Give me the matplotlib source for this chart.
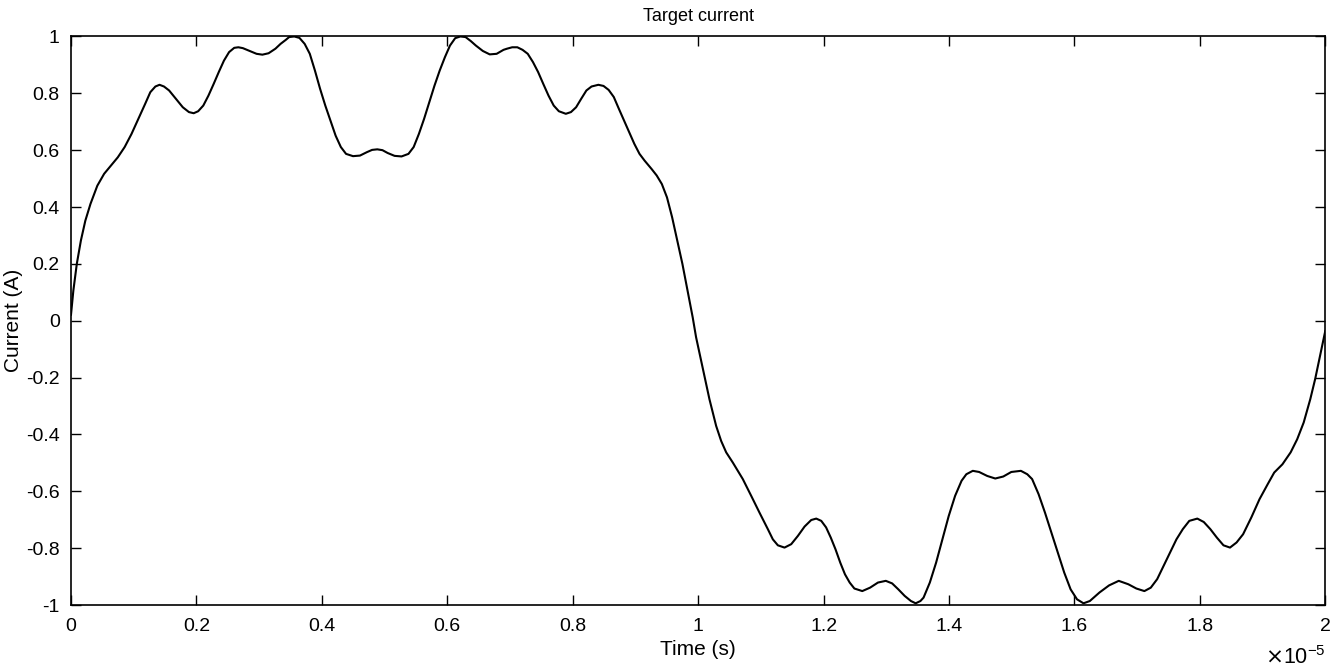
import numpy as np
import matplotlib
matplotlib.use("Agg")
import matplotlib.pyplot as plt

# Time in units of 1e-5 s and current in A
time_x1e5 = [
    0.0, 0.0038, 0.0093, 0.0158, 0.0229, 0.0311, 0.042, 0.0529, 0.0638, 0.0747,
    0.0856, 0.0965, 0.1074, 0.1183, 0.1265, 0.1346, 0.1412, 0.1483, 0.1565, 0.1673,
    0.1783, 0.1881, 0.1957, 0.2028, 0.211, 0.2192, 0.2275, 0.2357, 0.2439, 0.2521,
    0.2603, 0.2669, 0.274, 0.285, 0.2959, 0.3052, 0.3151, 0.326, 0.3342, 0.3425,
    0.3479, 0.3561, 0.3643, 0.3726, 0.3808, 0.389, 0.3972, 0.4055, 0.4138, 0.422,
    0.4303, 0.4386, 0.4497, 0.4608, 0.4718, 0.4801, 0.4884, 0.4967, 0.505, 0.516,
    0.5271, 0.5381, 0.5464, 0.5547, 0.563, 0.5713, 0.5796, 0.5879, 0.5962, 0.6043,
    0.6126, 0.6208, 0.6291, 0.6374, 0.6456, 0.6567, 0.6677, 0.6787, 0.6897, 0.6952,
    0.7035, 0.7117, 0.72, 0.7283, 0.7366, 0.7448, 0.7531, 0.7614, 0.7697, 0.7779,
    0.789, 0.7972, 0.8054, 0.8136, 0.8218, 0.83, 0.8409, 0.8491, 0.8573, 0.8655,
    0.8737, 0.8819, 0.8901, 0.8983, 0.9065, 0.9147, 0.9257, 0.9339, 0.9421, 0.9503,
    0.9585, 0.9667, 0.9749, 0.9831, 0.9913, 0.9967,
    1.018, 1.0234, 1.0287, 1.0367, 1.0447, 1.0553, 1.0712, 1.0846, 1.0978, 1.1111,
    1.1191, 1.1271, 1.1377, 1.1484, 1.159, 1.1697, 1.1803, 1.1883, 1.1963, 1.204,
    1.2115, 1.219, 1.2266, 1.2341, 1.2416, 1.2491, 1.2617, 1.2741, 1.2867, 1.2992,
    1.3093, 1.3192, 1.3293, 1.3393, 1.3468, 1.3544, 1.3594, 1.3694, 1.3794, 1.3895,
    1.3995, 1.4097, 1.42, 1.4276, 1.4379, 1.448, 1.4609, 1.4737, 1.4865, 1.4993,
    1.5146, 1.5248, 1.5325, 1.5428, 1.553, 1.5632, 1.5734, 1.5837, 1.5939, 1.6041,
    1.6144, 1.6245, 1.6399, 1.6552, 1.6706, 1.6757, 1.6859, 1.6987, 1.7115, 1.7217,
    1.7319, 1.7422, 1.7524, 1.7626, 1.7728, 1.7831, 1.7959, 1.8062, 1.8166, 1.8271,
    1.8376, 1.848, 1.8585, 1.8689, 1.882, 1.895, 1.9081, 1.9185, 1.9316, 1.9447,
    1.9551, 1.9655, 1.976, 1.9838, 1.9916, 2.0]
current_A = [
    0.02, 0.106, 0.200, 0.282, 0.352, 0.411, 0.475, 0.517, 0.546, 0.575,
    0.611, 0.657, 0.710, 0.763, 0.804, 0.824, 0.830, 0.824, 0.810, 0.781,
    0.751, 0.734, 0.730, 0.737, 0.757, 0.792, 0.833, 0.875, 0.915, 0.945,
    0.960, 0.962, 0.959, 0.949, 0.939, 0.936, 0.941, 0.957, 0.974, 0.988,
    0.998, 1.0, 0.995, 0.974, 0.939, 0.880, 0.816, 0.757, 0.704, 0.651,
    0.611, 0.587, 0.579, 0.581, 0.593, 0.601, 0.603, 0.600, 0.590, 0.580,
    0.578, 0.587, 0.611, 0.657, 0.710, 0.769, 0.827, 0.880, 0.927, 0.968,
    0.994, 1.0, 0.998, 0.984, 0.968, 0.949, 0.937, 0.939, 0.953, 0.957,
    0.962, 0.962, 0.953, 0.939, 0.910, 0.875, 0.833, 0.792, 0.757, 0.737,
    0.728, 0.734, 0.751, 0.781, 0.810, 0.824, 0.830, 0.826, 0.812, 0.787,
    0.745, 0.704, 0.663, 0.622, 0.587, 0.563, 0.534, 0.511, 0.481, 0.434,
    0.364, 0.282, 0.200, 0.106, 0.012, -0.058,
    -0.276, -0.323, -0.370, -0.423, -0.463, -0.499, -0.557, -0.616, -0.675, -0.733,
    -0.769, -0.790, -0.798, -0.786, -0.757, -0.724, -0.701, -0.696, -0.704, -0.727,
    -0.763, -0.804, -0.851, -0.892, -0.921, -0.942, -0.951, -0.939, -0.921, -0.915,
    -0.924, -0.945, -0.968, -0.986, -0.994, -0.986, -0.974, -0.921, -0.851, -0.769,
    -0.687, -0.616, -0.563, -0.540, -0.528, -0.532, -0.546, -0.555, -0.548, -0.532,
    -0.528, -0.540, -0.557, -0.610, -0.675, -0.745, -0.815, -0.886, -0.945, -0.980,
    -0.994, -0.986, -0.956, -0.931, -0.915, -0.919, -0.927, -0.942, -0.951, -0.939,
    -0.909, -0.862, -0.815, -0.769, -0.733, -0.704, -0.696, -0.708, -0.733, -0.763,
    -0.790, -0.798, -0.780, -0.751, -0.692, -0.628, -0.575, -0.534, -0.505, -0.463,
    -0.417, -0.358, -0.276, -0.205, -0.123, -0.035]

x_ticks = [0, 0.2, 0.4, 0.6, 0.8, 1, 1.2, 1.4, 1.6, 1.8, 2]
x_tick_labels = ["0", "0.2", "0.4", "0.6", "0.8", "1", "1.2", "1.4", "1.6", "1.8", "2"]
y_ticks = [-1, -0.8, -0.6, -0.4, -0.2, 0, 0.2, 0.4, 0.6, 0.8, 1]
y_tick_labels = ["-1", "-0.8", "-0.6", "-0.4", "-0.2", "0", "0.2", "0.4", "0.6", "0.8", "1"]

plt.rcParams['font.family'] = ['Liberation Sans', 'DejaVu Sans']

fig = plt.figure(figsize=(13.34, 6.68), dpi=100)
ax = fig.add_axes([0.0532, 0.0943, 0.9403, 0.8511])

t = np.array(time_x1e5) * 1e-5
ax.plot(t, current_A, color='black', linewidth=1.5,
        solid_joinstyle='round', solid_capstyle='round')

ax.set_xlim(0, 2e-5)
ax.set_ylim(-1, 1)
ax.set_xticks(np.array(x_ticks) * 1e-5)
ax.set_xticklabels(x_tick_labels)
ax.set_yticks(y_ticks)
ax.set_yticklabels(y_tick_labels)

ax.tick_params(direction='in', length=7, width=1, top=True, right=True,
               labelsize=14, colors='black')
ax.tick_params(axis='x', pad=9)
ax.tick_params(axis='y', pad=8)
for s in ax.spines.values():
    s.set_linewidth(1.2)
    s.set_color('black')

ax.set_title("Target current", fontsize=13, pad=11)
ax.set_xlabel("Time (s)", fontsize=15, labelpad=4)
ax.set_ylabel("Current (A)", fontsize=15, labelpad=2)

ax.text(1.0, -0.092, r"$\times\mathregular{10^{-5}}$", transform=ax.transAxes,
        ha='right', va='center', fontsize=15.5)

fig.savefig("out.png", dpi=100)
